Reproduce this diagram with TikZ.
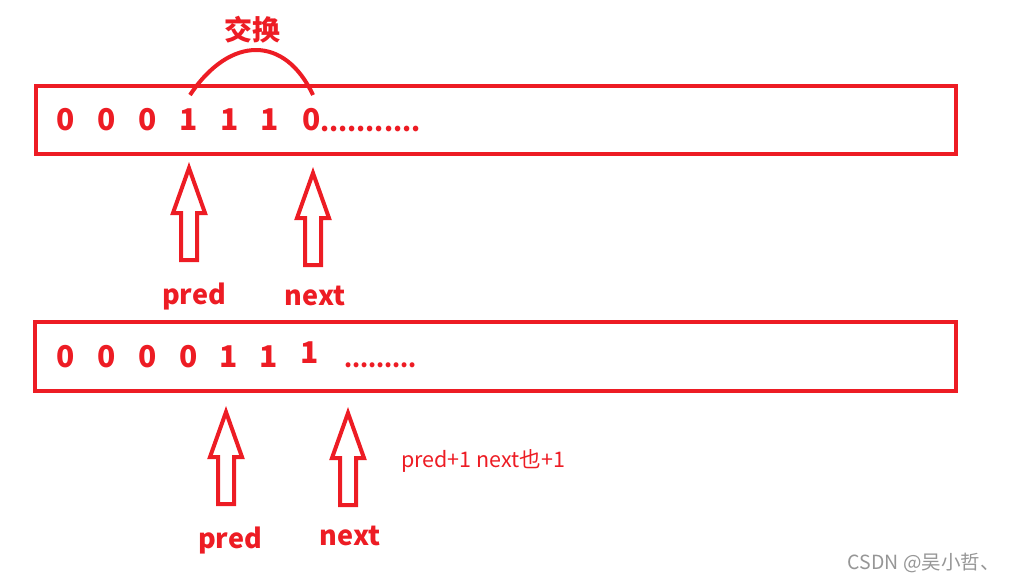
\documentclass[tikz,border=0pt]{standalone}
\usepackage{fontspec}
\setmainfont{Noto Sans CJK SC}
\usepackage{xcolor}
\usetikzlibrary{calc,positioning}
\definecolor{paintred}{RGB}{237,28,36}
\definecolor{markgray}{RGB}{150,150,150}
% hollow up arrow: name, x, y of tip
\newcommand{\hollowup}[3]{%
  \coordinate (#1) at (#2,#3);
  \draw[ptr] (#1) -- ++(16,45) -- ++(-8,0) -- ++(0,47) -- ++(-16,0)
    -- ++(0,-47) -- ++(-8,0) -- cycle;}

\begin{document}
\begin{tikzpicture}[x=1pt,y=-1pt]
      \tikzstyle{every node}=[text=paintred, inner sep=0pt]
      \tikzstyle{bitbox}=[draw=paintred, line width=4pt]
      \tikzstyle{ptr}=[draw=paintred, line width=4pt, line join=miter]
      \tikzstyle{digit}=[font=\fontsize{30}{30}\selectfont\bfseries]
      \tikzstyle{tag}=[font=\fontsize{27}{27}\selectfont\bfseries]
      \useasboundingbox (0,0) rectangle (1011,582);
      % first row
      \draw[bitbox] (36,86) rectangle (956,154);
      \foreach \v/\x [count=\i] in {0/66,0/107,0/148,1/189,1/230,1/270,0/312}
        \node[digit] (t\i) at (\x,120) {\v};
      \node[font=\fontsize{26}{26}\selectfont\bfseries, anchor=base west] (tdots) at (320,131) {...........};
      % swap
      \coordinate (s1) at (190,95);
      \coordinate (s2) at (313,95);
      \draw[paintred, line width=4pt] (s1) .. controls (230,35) and (285,35) .. (s2);
      \node[font=\fontsize{28}{28}\selectfont\bfseries] (swap) at (252,30) {交换};
      \hollowup{pa}{189}{168}
      \hollowup{na}{313}{173}
      \node[tag] (pred) at (194,296) {pred};
      \node[tag] (next) at (315,296) {next};
      % second row
      \draw[bitbox] (35,322) rectangle (956,391);
      \foreach \v/\x [count=\i] in {0/66,0/107,0/148,0/189,1/229,1/269}
        \node[digit] (b\i) at (\x,357) {\v};
      \node[digit] (b7) at (310,353) {1};
      \node[font=\fontsize{23}{23}\selectfont\bfseries, anchor=base west] (bdots) at (344,367) {.........};
      \hollowup{pb}{226}{412}
      \hollowup{nb}{348}{413}
      \node[tag] (pred2) at (230,540) {pred};
      \node[tag] (next2) at (350,536) {next};
      \node[font=\fontsize{21.5}{21.5}\selectfont, anchor=west] (step) at (401,461) {pred+1 next也+1};
      \node[font=\fontsize{19.5}{19.5}\selectfont, text=markgray, anchor=east] (mark) at (1000,563) {CSDN @吴小哲、};
\end{tikzpicture}
\end{document}
